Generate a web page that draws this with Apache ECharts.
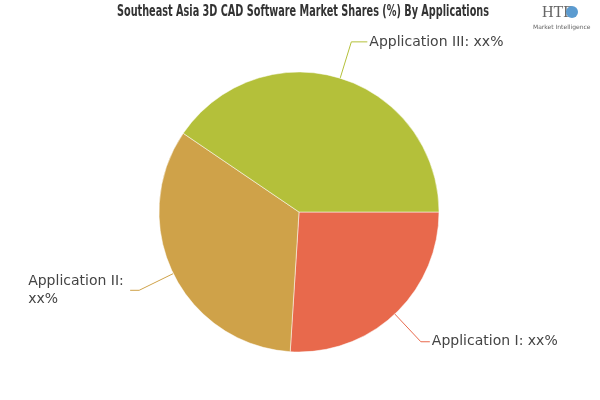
<!DOCTYPE html>
<html><head><meta charset="utf-8">
<script src="https://cdn.jsdelivr.net/npm/echarts@6/dist/echarts.min.js"></script>
<style>html,body{margin:0;padding:0;background:#fff}#c{width:600px;height:400px}</style>
</head><body><div id="c"></div>
<script>
const categories = ['Application I', 'Application II', 'Application III'];
const values = [26, 33.5, 40.5];
const labelTexts = ['Application I: xx%', 'Application II:\nxx%', 'Application III: xx%'];
const colors = ['#e8694c', '#cfa249', '#b4c03a'];
const titleText = 'Southeast Asia 3D CAD Software Market Shares (%) By Applications';

const titleFont = 'bold 16px "DejaVu Sans Condensed"';
const ctx = document.createElement('canvas').getContext('2d');
ctx.font = titleFont;
const titleScale = 372 / ctx.measureText(titleText).width;

const chart = echarts.init(document.getElementById('c'));
chart.setOption({
  animation: false,
  graphic: [
    { type: 'text', x: 303, y: 12, scaleX: titleScale, scaleY: 1,
      style: { text: titleText, font: titleFont, fill: '#333', textAlign: 'center', textVerticalAlign: 'middle' } },
    { type: 'text', left: 542, top: 5, style: { text: 'HTF', font: '16px "Liberation Serif"', fill: '#666' } },
    { type: 'circle', shape: { cx: 572, cy: 12, r: 6 }, style: { fill: '#5b9bd0' } },
    { type: 'text', left: 533, top: 24, style: { text: 'Market Intelligence', font: '6px "DejaVu Sans"', fill: '#666' } }
  ],
  series: [{
    type: 'pie',
    center: [299, 212],
    radius: 140,
    startAngle: 0,
    clockwise: true,
    itemStyle: { borderColor: '#fff', borderWidth: 0.5 },
    label: {
      color: '#444', fontSize: 14, fontFamily: 'DejaVu Sans', lineHeight: 18,
      distanceToLabelLine: 2,
      formatter: p => p.dataIndex === 1 ? '{l|' + labelTexts[1].split('\n').join('}\n{l|') + '}' : labelTexts[p.dataIndex],
      rich: { l: { width: 100, align: 'left', color: '#444', fontSize: 14, fontFamily: 'DejaVu Sans', lineHeight: 18 } }
    },
    labelLine: { length: 38, length2: 9, smooth: false },
    data: categories.map((c, i) => ({
      name: c, value: values[i], itemStyle: { color: colors[i] },
      labelLine: i === 2 ? { length: 38, length2: 16 } : undefined
    }))
  }]
});
</script></body></html>
